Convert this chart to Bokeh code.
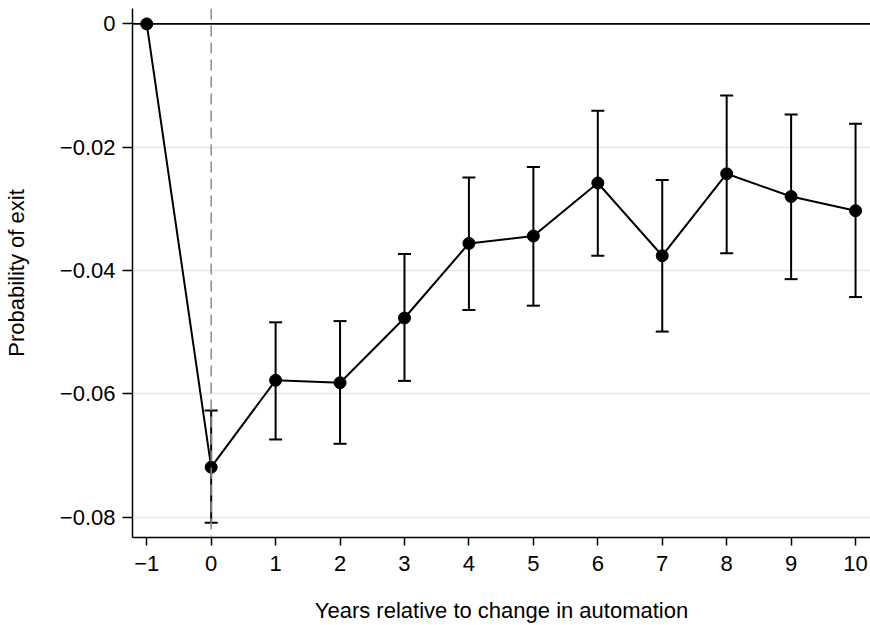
from bokeh.plotting import figure
from bokeh.models import (ColumnDataSource, Whisker, TeeHead, Span, FixedTicker,
                          CustomJSTickFormatter, Range1d)
from bokeh.embed import file_html
from bokeh.resources import INLINE

years = [-1, 0, 1, 2, 3, 4, 5, 6, 7, 8, 9, 10]
coef = [0.0, -0.0719, -0.0578, -0.0582, -0.0477, -0.0356, -0.0344, -0.0258,
        -0.0376, -0.0243, -0.0280, -0.0303]
upper = [0.0, -0.0627, -0.0484, -0.0482, -0.0373, -0.0249, -0.0232, -0.0141,
         -0.0253, -0.0116, -0.0147, -0.0162]
lower = [0.0, -0.0809, -0.0674, -0.0681, -0.0579, -0.0464, -0.0457, -0.0376,
         -0.0499, -0.0372, -0.0414, -0.0443]
y_ticks = [0.0, -0.02, -0.04, -0.06, -0.08]
x_label = "Years relative to change in automation"
y_label = "Probability of exit"

FONT = "Liberation Sans"

p = figure(width=870, height=625, output_backend="svg", toolbar_location=None,
           x_range=Range1d(-1.221, 10.232), y_range=Range1d(-0.0833, 0.0025),
           min_border_left=129, min_border_right=0, min_border_top=8,
           min_border_bottom=88)
p.outline_line_color = None
p.background_fill_color = "white"
p.border_fill_color = "white"

# grid
p.xgrid.visible = False
p.ygrid.ticker = FixedTicker(ticks=y_ticks[1:])
p.ygrid.grid_line_color = "#e6e6e6"
p.ygrid.grid_line_width = 1.5

# reference lines
p.add_layout(Span(location=0, dimension="height", line_color="#8a8a8a",
                  line_dash="11 6", line_width=1.5))
p.add_layout(Span(location=0, dimension="width", line_color="black",
                  line_width=1.8))

# error bars
src_err = ColumnDataSource(dict(x=years[1:], upper=upper[1:], lower=lower[1:]))
w = Whisker(base="x", upper="upper", lower="lower", source=src_err,
            line_color="black", line_width=2,
            upper_head=TeeHead(size=13, line_color="black", line_width=2),
            lower_head=TeeHead(size=13, line_color="black", line_width=2))
p.add_layout(w)

src = ColumnDataSource(dict(x=years, y=coef))
p.line("x", "y", source=src, line_color="black", line_width=2)
p.scatter("x", "y", source=src, size=12, fill_color="black", line_color="black")

# axes
p.xaxis.ticker = FixedTicker(ticks=years)
p.yaxis.ticker = FixedTicker(ticks=y_ticks)
p.xaxis.formatter = CustomJSTickFormatter(
    code="return tick < 0 ? '\u2212' + Math.abs(tick) : '' + tick;")
p.yaxis.formatter = CustomJSTickFormatter(
    code="if (Math.abs(tick) < 1e-9) return '0'; return '\u2212' + Math.abs(tick).toFixed(2);")

for ax in (p.xaxis[0], p.yaxis[0]):
    ax.axis_line_color = "black"
    ax.axis_line_width = 1.5
    ax.major_tick_line_color = "black"
    ax.major_tick_line_width = 1.5
    ax.major_tick_in = 0
    ax.minor_tick_line_color = None
    ax.major_label_text_font = FONT
    ax.major_label_text_font_size = "22px"
    ax.major_label_text_color = "black"
    ax.axis_label_text_font = FONT
    ax.axis_label_text_font_size = "22px"
    ax.axis_label_text_font_style = "normal"
    ax.axis_label_text_color = "black"

p.xaxis.axis_label = x_label
p.yaxis.axis_label = y_label
p.xaxis.major_tick_out = 8
p.yaxis.major_tick_out = 10
p.xaxis.major_label_standoff = 10
p.yaxis.major_label_standoff = 7
p.xaxis.axis_label_standoff = 24
p.yaxis.axis_label_standoff = 28

open("out.html", "w").write(file_html(p, INLINE))
